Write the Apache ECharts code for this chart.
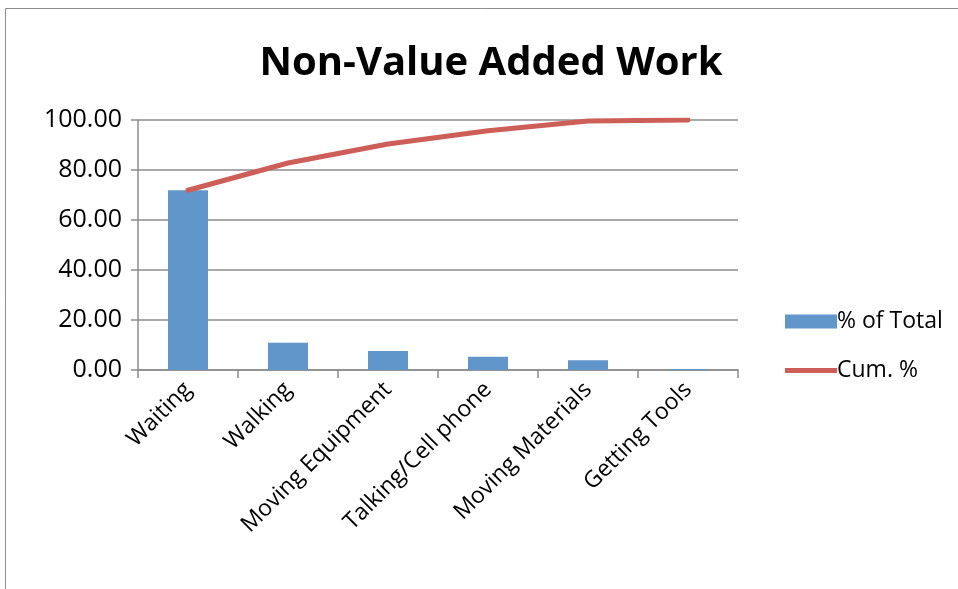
<!DOCTYPE html>
<html>
<head>
<meta charset="utf-8">
<script src="https://cdn.jsdelivr.net/npm/echarts@6/dist/echarts.min.js"></script>
<style>
  html, body { margin: 0; padding: 0; background: #fff; }
  #chart { width: 958px; height: 589px; }
</style>
</head>
<body>
<div id="chart"></div>
<script>
// data
const categories = ['Waiting', 'Walking', 'Moving Equipment', 'Talking/Cell phone', 'Moving Materials', 'Getting Tools']
const pctOfTotal = [71.9, 10.9, 7.6, 5.3, 3.9, 0.4]
const cumPct = [71.9, 82.8, 90.4, 95.7, 99.6, 100]

const FONT = '"Open Sans", "Liberation Sans", sans-serif'
const chart = echarts.init(document.getElementById('chart'))

chart.setOption({
  backgroundColor: '#fff',
  animation: false,
  textStyle: { fontFamily: FONT, color: '#000' },
  title: {
    text: 'Non-Value Added Work',
    left: 486,
    textAlign: 'center',
    top: 39,
    textStyle: { fontSize: 40, fontWeight: 'bold', color: '#000', fontFamily: FONT }
  },
  graphic: [
    {
      type: 'rect',
      shape: { x: 5.5, y: 8.5, width: 1000, height: 700 },
      style: { fill: 'none', stroke: '#8c8c8c', lineWidth: 1 },
      silent: true,
      z: -1
    }
  ],
  legend: {
    orient: 'vertical',
    left: 780,
    top: 305,
    itemWidth: 52,
    itemHeight: 14,
    itemGap: 26,
    textStyle: { fontSize: 23, color: '#000', fontFamily: FONT, padding: [0, 0, 0, -5] },
    data: [
      { name: '% of Total', icon: 'rect' },
      // thin bar in a 52x14 box: the bare moveTo points keep the box size
      { name: 'Cum. %', icon: 'path://M0,0 M0,4.5 L52,4.5 L52,9.5 L0,9.5 Z M52,14', itemStyle: { color: '#CD5F58' } }
    ]
  },
  grid: {
    left: 138,
    right: 220,
    top: 120,
    bottom: 219
  },
  xAxis: {
    type: 'category',
    data: categories,
    boundaryGap: true,
    axisLine: { lineStyle: { color: '#8c8c8c', width: 1.5 } },
    axisTick: { show: true, length: 8, alignWithLabel: false, lineStyle: { color: '#8c8c8c', width: 1.5 } },
    axisLabel: {
      interval: 0,
      rotate: 45,
      margin: 16,
      fontSize: 23,
      color: '#000',
      fontFamily: FONT
    }
  },
  yAxis: {
    type: 'value',
    min: 0,
    max: 100,
    interval: 20,
    axisLine: { show: true, lineStyle: { color: '#8c8c8c', width: 1.5 } },
    axisTick: { show: true, length: 7, lineStyle: { color: '#8c8c8c', width: 1.5 } },
    splitLine: { lineStyle: { color: '#8c8c8c', width: 1.5 } },
    axisLabel: {
      fontSize: 25,
      color: '#000',
      margin: 16,
      fontFamily: FONT,
      formatter: v => v.toFixed(2)
    }
  },
  series: [
    {
      name: '% of Total',
      type: 'bar',
      data: pctOfTotal,
      barWidth: '40%',
      itemStyle: { color: '#6096C9' }
    },
    {
      name: 'Cum. %',
      type: 'line',
      data: cumPct,
      symbol: 'none',
      lineStyle: { color: '#CD5F58', width: 5, cap: 'round' },
      itemStyle: { color: '#CD5F58' }
    }
  ]
})
</script>
</body>
</html>
